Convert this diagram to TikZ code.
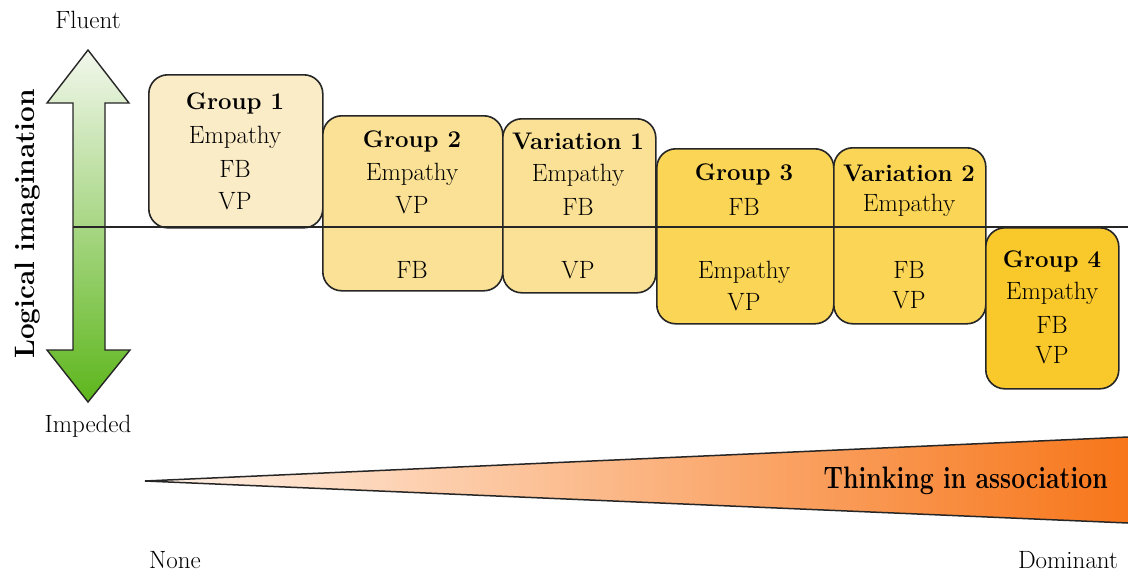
\documentclass[tikz,border=0pt]{standalone}
\usetikzlibrary{calc}
\definecolor{gOne}{HTML}{FBECC8}
\definecolor{gTwo}{HTML}{FAE196}
\definecolor{gThree}{HTML}{FBD556}
\definecolor{gFour}{HTML}{F9C82A}
\definecolor{arrTop}{HTML}{F2F7EC}
\definecolor{arrMid}{HTML}{86BE5C}
\definecolor{arrBot}{HTML}{5DB61C}
\definecolor{wedgeL}{HTML}{FFF3EA}
\definecolor{wedgeR}{HTML}{F7761A}
\tikzset{
  x=1pt, y=-1pt,
  grp/.style={draw=black!85, line width=1.6pt, rounded corners=19pt, inner sep=0pt},
  txt/.style={font=\fontsize{25}{28}\selectfont, inner sep=0pt, text=black},
  ttl/.style={font=\bfseries\fontsize{24}{28}\selectfont, inner sep=0pt, text=black},
  lbl/.style={font=\fontsize{25}{28}\selectfont, inner sep=0pt, text=black},
}
\begin{document}
\begin{tikzpicture}
\useasboundingbox (0,0) rectangle (1128,573);

% vertical double arrow for logical imagination
\shade[top color=arrTop, middle color=arrMid, bottom color=arrBot, draw=black!85, line width=1.4pt, line join=miter]
  (88,50) -- (129,103) -- (105,103) -- (105,350) -- (130,350) -- (88,402)
  -- (47,350) -- (73,350) -- (73,103) -- (47,103) -- cycle;

\node[lbl] (fluent) at (88,20) {Fluent};
\node[lbl] (impeded) at (88,426) {Impeded};
\node[font=\bfseries\fontsize{28}{30}\selectfont, rotate=90, inner sep=0pt] (logic) at (28,224) {Logical imagination};

% group boxes
\node[grp, fill=gOne,   minimum width=174pt, minimum height=153pt, anchor=north west] (g1) at (148,74) {};
\node[grp, fill=gTwo,   minimum width=180pt, minimum height=175pt, anchor=north west] (g2) at (322,115) {};
\node[grp, fill=gTwo,   minimum width=153pt, minimum height=174pt, anchor=north west] (v1) at (502,118) {};
\node[grp, fill=gThree, minimum width=177pt, minimum height=175pt, anchor=north west] (g3) at (656,148) {};
\node[grp, fill=gThree, minimum width=152pt, minimum height=176pt, anchor=north west] (v2) at (833,147) {};
\node[grp, fill=gFour,  minimum width=133pt, minimum height=161pt, anchor=north west] (g4) at (985,227) {};

% box texts
\node[ttl] (g1t) at (235,103) {Group 1};
\node[txt] (g1a) at (235,137) {Empathy};
\node[txt] (g1b) at (235,169) {FB};
\node[txt] (g1c) at (235,201) {VP};

\node[ttl] (g2t) at (412,141) {Group 2};
\node[txt] (g2a) at (412,174) {Empathy};
\node[txt] (g2b) at (412,205) {VP};
\node[txt] (g2c) at (412,270) {FB};

\node[ttl] (v1t) at (578,141) {Variation 1};
\node[txt] (v1a) at (578,175) {Empathy};
\node[txt] (v1b) at (578,207) {FB};
\node[txt] (v1c) at (578,270) {VP};

\node[ttl] (g3t) at (744,174) {Group 3};
\node[txt] (g3a) at (744,207) {FB};
\node[txt] (g3b) at (744,272) {Empathy};
\node[txt] (g3c) at (744,302) {VP};

\node[ttl] (v2t) at (909,173) {Variation 2};
\node[txt] (v2a) at (909,205) {Empathy};
\node[txt] (v2b) at (909,270) {FB};
\node[txt] (v2c) at (909,300) {VP};

\node[ttl] (g4t) at (1052,261) {Group 4};
\node[txt] (g4a) at (1052,293) {Empathy};
\node[txt] (g4b) at (1052,325) {FB};
\node[txt] (g4c) at (1052,355) {VP};

% neutral line
\coordinate (ls) at (73,227);
\coordinate (le) at (1128,227);
\draw[line width=1.4pt, black!85] (ls) -- (le);

% wedge for thinking in association
\coordinate (wtip) at (145,481);
\coordinate (wtop) at (1128,437);
\coordinate (wbot) at (1128,523);
\shade[left color=wedgeL, right color=wedgeR] (wtip) -- (wtop) -- (wbot) -- cycle;
\draw[line width=1.5pt, black!85] (wtop) -- (wtip) -- (wbot);
\node[font=\bfseries\fontsize{31}{34}\selectfont, inner sep=0pt, anchor=east] (think) at (1108,481) {\scalebox{0.8}[1]{Thinking in association}};

\node[lbl] (none) at (175,560) {None};
\node[lbl] (dom) at (1068,560) {Dominant};
\end{tikzpicture}
\end{document}
